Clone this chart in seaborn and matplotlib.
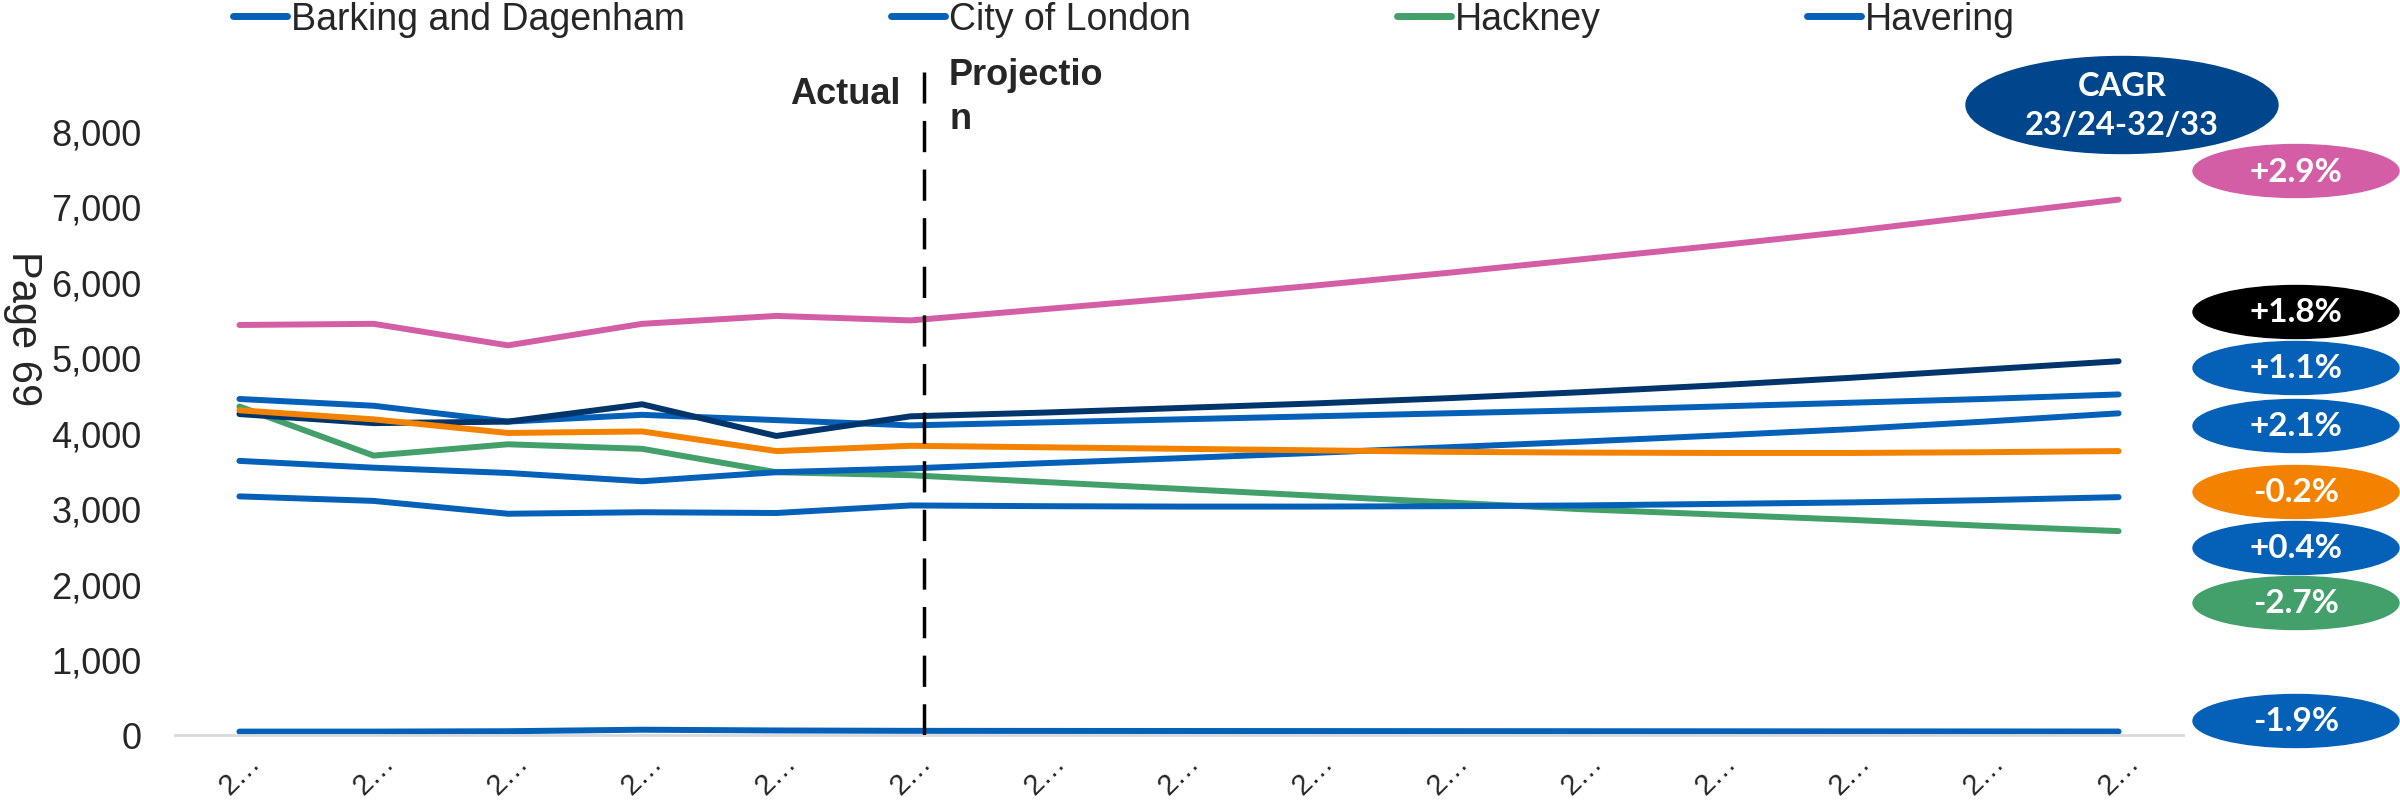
import numpy as np
import pandas as pd
import matplotlib.pyplot as plt
import seaborn as sns
from matplotlib.patches import Ellipse
from matplotlib.lines import Line2D

# Years 2018/19 .. 2032/33 (actual up to 2023/24, projection after)
years = ['2018/19', '2019/20', '2020/21', '2021/22', '2022/23', '2023/24', '2024/25',
         '2025/26', '2026/27', '2027/28', '2028/29', '2029/30', '2030/31', '2031/32', '2032/33']
tick_labels = ['2…'] * len(years)

newham = [5430, 5445, 5160, 5445, 5550, 5490, 5640, 5790, 5950, 6120, 6300, 6480, 6670, 6880, 7090]
redbridge = [4250, 4130, 4150, 4380, 3960, 4220, 4270, 4330, 4390, 4460, 4540, 4630, 4730, 4840, 4950]
barking = [4450, 4360, 4150, 4240, 4170, 4100, 4140, 4180, 4220, 4260, 4300, 4350, 4400, 4450, 4510]
havering = [3630, 3540, 3470, 3360, 3480, 3530, 3600, 3665, 3735, 3810, 3885, 3965, 4050, 4150, 4260]
tower_hamlets = [4300, 4180, 4000, 4020, 3760, 3830, 3810, 3790, 3770, 3750, 3740, 3735, 3735, 3745, 3760]
waltham_forest = [3160, 3100, 2930, 2950, 2940, 3040, 3030, 3025, 3025, 3030, 3040, 3060, 3080, 3110, 3150]
hackney = [4350, 3700, 3850, 3790, 3480, 3440, 3350, 3260, 3170, 3080, 2990, 2920, 2850, 2770, 2700]
city = [45, 45, 50, 70, 60, 55, 54, 53, 52, 51, 50, 49, 48, 47, 46]

areas = ['Barking and Dagenham', 'City of London', 'Hackney', 'Havering',
         'Newham', 'Redbridge', 'Tower Hamlets', 'Waltham Forest']
series = [barking, city, hackney, havering, newham, redbridge, tower_hamlets, waltham_forest]
colors = ['#0560B8', '#0560B8', '#43A06A', '#0560B8', '#D45EA5', '#00356B', '#F28200', '#0560B8']
legend_areas = areas[:4]

# CAGR badges (top to bottom)
cagr_text = ['+2.9%', '+1.8%', '+1.1%', '+2.1%', '-0.2%', '+0.4%', '-2.7%', '-1.9%']
cagr_colors = ['#D45EA5', '#000000', '#0560B8', '#0560B8', '#F28200', '#0560B8', '#43A06A', '#0560B8']
cagr_ypx = [172, 313, 369, 427, 493, 549, 604, 722]

# long table for seaborn
df = pd.DataFrame({a: s for a, s in zip(areas, series)})
df['pos'] = np.arange(len(years))
long = df.melt(id_vars='pos', var_name='area', value_name='value')
palette = dict(zip(areas, colors))

sns.set_theme(style='white')
plt.rcParams['font.family'] = ['Liberation Sans', 'DejaVu Sans']

W, H = 2400, 803
fig = plt.figure(figsize=(24, 8.03), dpi=100)
ax = fig.add_axes([175 / W, 1 - 736 / H, (2183 - 175) / W, (736 - 73) / H])

sns.lineplot(data=long, x='pos', y='value', hue='area', hue_order=areas, palette=palette,
             estimator=None, sort=False, legend=False, linewidth=4.3,
             solid_capstyle='round', ax=ax)

# actual / projection divider
ax.axvline(5.1, color='black', lw=2.5, dashes=(9, 5), zorder=5)

ax.set_xlim(-0.48, len(years) - 1 + 0.48)
ax.set_ylim(0, 8780)
ax.set_yticks(range(0, 8001, 1000))
ax.set_yticklabels([f'{v:,}' for v in range(0, 8001, 1000)], fontsize=26)
ax.set_xticks(range(len(years)))
ax.set_xticklabels(tick_labels, rotation=45, ha='center', fontsize=21)
ax.tick_params(axis='y', length=0, pad=24)
ax.tick_params(axis='x', length=0, pad=9)
ax.set_xlabel('')
ax.set_ylabel('')
for s in ['left', 'right', 'top']:
    ax.spines[s].set_visible(False)
ax.spines['bottom'].set_color('#D9D9D9')
ax.spines['bottom'].set_linewidth(2)

fig.text(23 / W, 1 - 329 / H, 'Page 69', rotation=-90, fontsize=30,
         ha='center', va='center')

fig.text(900 / W, 1 - 95 / H, 'Actual', fontsize=26, fontweight='bold',
         ha='right', va='center')
fig.text(949 / W, 1 - 58 / H, 'Projectio\nn', fontsize=26, fontweight='bold',
         ha='left', va='top', linespacing=1.35)

# legend (only first row of entries visible, like the original)
handles = [Line2D([0], [0], color=palette[a], lw=5, solid_capstyle='round') for a in legend_areas]
fig.legend(handles, legend_areas, loc='center left', bbox_to_anchor=(233 / W, 1 - 20 / H),
           ncol=4, frameon=False, handlelength=1.44, handletextpad=0.1, columnspacing=5.5,
           borderaxespad=0, borderpad=0, prop={'size': 27})

# CAGR header badge
fig.add_artist(Ellipse((2122 / W, 1 - 106 / H), 312 / W, 97 / H,
                       transform=fig.transFigure, color='#00468C'))
fig.text(2122 / W, 1 - 106 / H, 'CAGR\n23/24-32/33', color='white', fontsize=23.5,
         fontweight='bold', family=['Lato', 'DejaVu Sans'], ha='center', va='center',
         linespacing=1.4)

for t, c, ypx in zip(cagr_text, cagr_colors, cagr_ypx):
    fig.add_artist(Ellipse((2296 / W, 1 - ypx / H), 206 / W, 53 / H,
                           transform=fig.transFigure, color=c))
    fig.text(2296 / W, 1 - ypx / H, t, color='white', fontsize=24, fontweight='bold',
             family=['Lato', 'DejaVu Sans'], ha='center', va='center')

fig.savefig('out.png', dpi=100)
